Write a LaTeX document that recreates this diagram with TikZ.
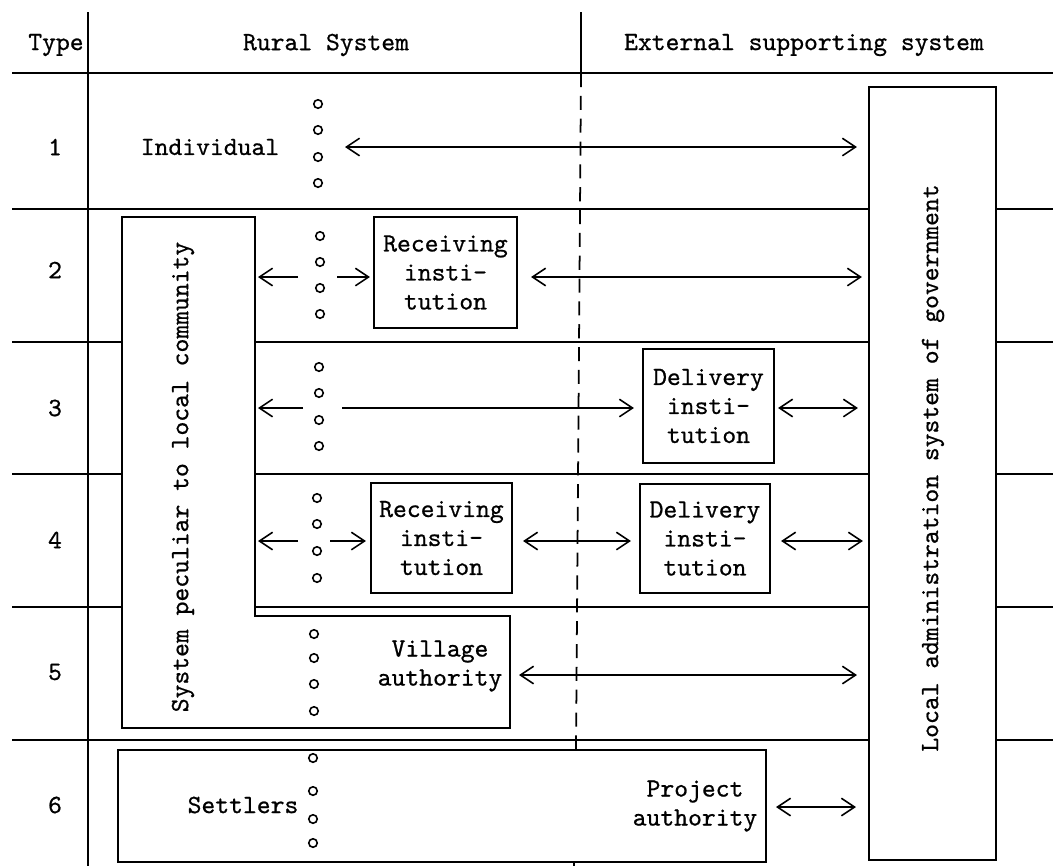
\documentclass[tikz,border=0pt]{standalone}
\usepackage{fontspec}
\newfontfamily\typewriter{lmmono10-regular}[Extension=.otf, FakeBold=0.7]
\usetikzlibrary{arrows.meta,calc}
\begin{document}
\begin{tikzpicture}[x=0.02cm,y=-0.02cm,
  barb/.tip={Straight Barb[length=7.5pt,width=10pt,line width=0.9pt]},
  rule/.style={line width=1pt},
  divider/.style={line width=1pt, dash pattern=on 8pt off 5pt},
  box/.style={draw, fill=white, line width=1.2pt, inner sep=0pt},
  dot/.style={circle, draw, line width=0.9pt, minimum size=0.17cm, inner sep=0pt},
  txt/.style={font=\typewriter\fontsize{15}{16.5}\selectfont, inner sep=0pt, align=center},
  one/.style={-barb, line width=0.9pt},
  both/.style={barb-barb, line width=0.9pt}]
\useasboundingbox (0,0) rectangle (1053,866);

% table frame
\draw[rule] (88,12) -- (88,866);
\draw[rule] (581,12) -- (581,73);
\draw[divider] (581,73) -- (576,750);
\draw[rule] (574,862) -- (574,866);
\foreach \y in {73,209,342,474,607,740}
  \draw[rule] (12,\y) -- (1053,\y);

% column headings and type numbers
\node[txt] (hType) at (56,45) {Type};
\node[txt] (hRural) at (326,45) {Rural System};
\node[txt] (hExt) at (804,45) {External supporting system};
\foreach \n/\y in {1/147,2/270,3/408,4/540,5/672,6/805}
  \node[txt] (type\n) at (55,\y) {\n};

% L-shaped community system
\coordinate (Lne) at (255,217);
\coordinate (Lbr) at (510,728);
\draw[line width=1.2pt, fill=white] (122,217) -- (Lne) -- (255,616) -- (510,616) -- (Lbr) -- (122,728) -- cycle;
\node[txt, rotate=90] (community) at (183,477) {System peculiar to local community};
\node[txt] (village) at (440,666) {Village\\authority};

% settlers / project box
\node[box, minimum width=12.96cm, minimum height=2.24cm] (settle) at (442,806) {};
\node[txt] (settlers) at (243,805) {Settlers};
\node[txt] (project) at (695,806) {Project\\authority};

% government
\node[box, minimum width=2.54cm, minimum height=15.46cm] (gov) at (932.5,473.5) {};
\node[txt, rotate=90] (govlabel) at (933,468) {Local administration system of government};

% institutions
\node[box, txt, draw, inner sep=0pt, minimum width=2.86cm, minimum height=2.22cm] (recv2) at (445.5,272.5) {Receiving\\insti-\\tution};
\node[box, txt, draw, inner sep=0pt, minimum width=2.82cm, minimum height=2.20cm] (recv4) at (441.5,538) {Receiving\\insti-\\tution};
\node[box, txt, draw, inner sep=0pt, minimum width=2.62cm, minimum height=2.28cm] (deliv3) at (708.5,406) {Delivery\\insti-\\tution};
\node[box, txt, draw, inner sep=0pt, minimum width=2.60cm, minimum height=2.18cm] (deliv4) at (705,538.5) {Delivery\\insti-\\tution};
\node[txt] (indiv) at (210,147) {Individual};

% member dots
\foreach \y [count=\i] in {104,130,157,183} \node[dot] (d1-\i) at (318,\y) {};
\foreach \y [count=\i] in {236,262,288,314} \node[dot] (d2-\i) at (320,\y) {};
\foreach \y [count=\i] in {367,393,420,446} \node[dot] (d3-\i) at (319,\y) {};
\foreach \y [count=\i] in {498,524,551,578} \node[dot] (d4-\i) at (317,\y) {};
\foreach \y [count=\i] in {634,658,684,711} \node[dot] (d5-\i) at (314,\y) {};
\foreach \y [count=\i] in {758,791,819,843} \node[dot] (d6-\i) at (313,\y) {};

% connector ends next to the dots
\coordinate (a1) at (345,147);
\coordinate (a2l) at (298,277);
\coordinate (a2r) at (337,277);
\coordinate (a3l) at (303,408);
\coordinate (a3r) at (342,408);
\coordinate (a4l) at (298,541);
\coordinate (a4r) at (330,541);
\coordinate (a5) at (510,675);
\coordinate (a6) at (766,807);

% type 1
\draw[both, shorten >=0.22cm] (a1) -- (a1 -| gov.west);
% type 2
\draw[one, shorten >=0.06cm] (a2l) -- (a2l -| Lne);
\draw[one, shorten >=0.06cm] (a2r) -- (a2r -| recv2.west);
\draw[both, shorten <=0.26cm, shorten >=0.12cm] (a2r -| recv2.east) -- (a2r -| gov.west);
% type 3
\draw[one, shorten >=0.06cm] (a3l) -- (a3l -| Lne);
\draw[one, shorten >=0.16cm] (a3r) -- (a3r -| deliv3.west);
\draw[both, shorten <=0.06cm, shorten >=0.2cm] (a3r -| deliv3.east) -- (a3r -| gov.west);
% type 4
\draw[one, shorten >=0.06cm] (a4l) -- (a4l -| Lne);
\draw[one, shorten >=0.08cm] (a4r) -- (a4r -| recv4.west);
\draw[both, shorten <=0.2cm, shorten >=0.16cm] (a4r -| recv4.east) -- (a4r -| deliv4.west);
\draw[both, shorten <=0.2cm, shorten >=0.1cm] (a4r -| deliv4.east) -- (a4r -| gov.west);
% type 5
\draw[both, shorten <=0.18cm, shorten >=0.22cm] (a5) -- (a5 -| gov.west);
% type 6
\draw[both, shorten <=0.18cm, shorten >=0.24cm] (a6 -| settle.east) -- (a6 -| gov.west);
\end{tikzpicture}
\end{document}
